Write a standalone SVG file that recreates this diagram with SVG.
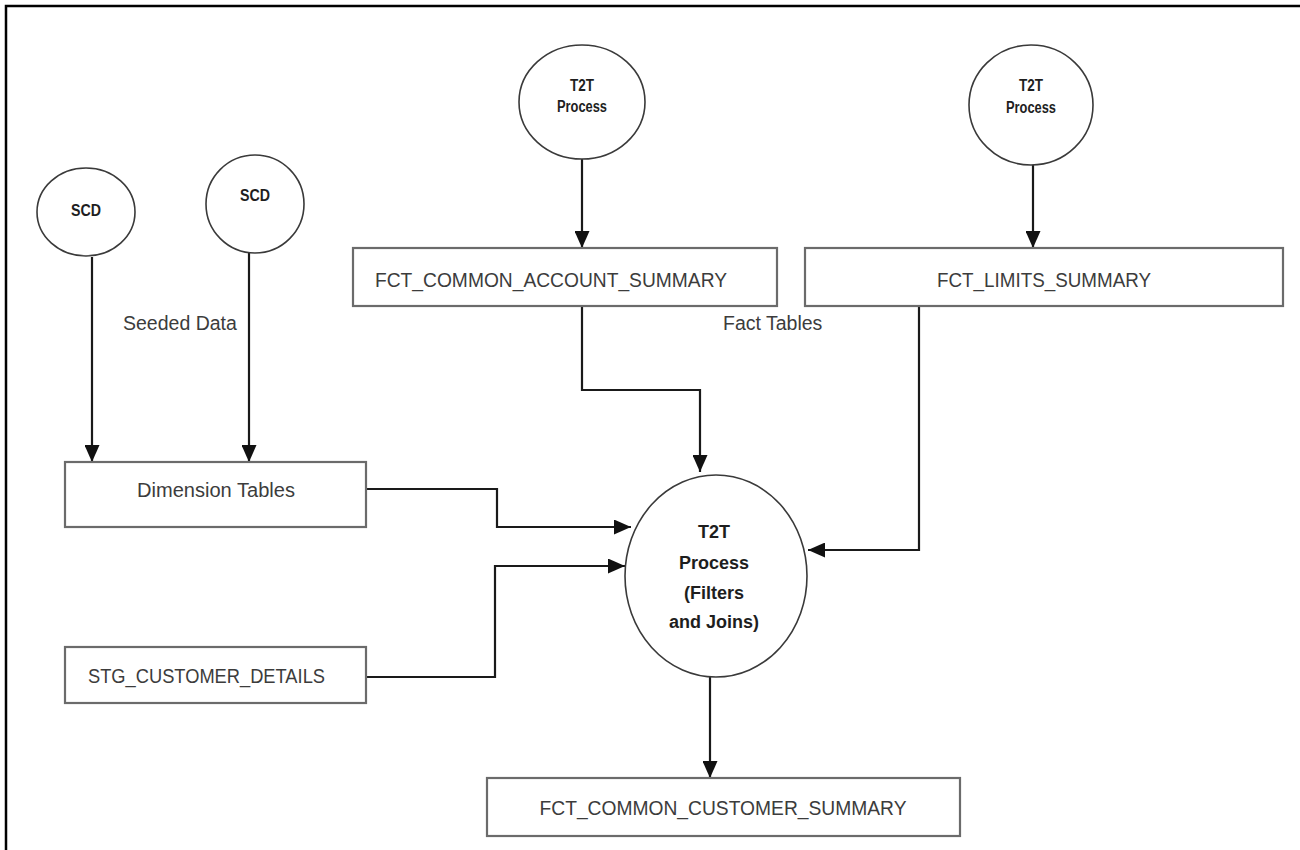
<svg xmlns="http://www.w3.org/2000/svg" width="1300" height="850" viewBox="0 0 1300 850">
<style>
.box{fill:#fff;stroke:#6b6b6b;stroke-width:2.2}
.circ{fill:#fff;stroke:#3a3a3a;stroke-width:1.6}
.conn{fill:none;stroke:#1a1a1a;stroke-width:2.2}
.lbl{font-family:"Liberation Sans",Arial,sans-serif;font-size:19.5px;fill:#3c3c3c}
.b{font-family:"Liberation Sans",Arial,sans-serif;font-weight:bold;fill:#1e1e1e}
</style>
<defs>
<marker id="ah" viewBox="0 0 17 15" refX="17" refY="7.5" markerWidth="17" markerHeight="15" markerUnits="userSpaceOnUse" orient="auto">
<path d="M0,0 L17,7.5 L0,15 Z" fill="#111"/>
</marker>
</defs>
<rect x="0" y="0" width="1300" height="850" fill="#fff"/>
<path d="M6,850 V6 H1300" fill="none" stroke="#000" stroke-width="2.5"/>

<g id="connectors">
<path class="conn" d="M92,257 V462" marker-end="url(#ah)"/>
<path class="conn" d="M249,253 V462" marker-end="url(#ah)"/>
<path class="conn" d="M582,158 V248" marker-end="url(#ah)"/>
<path class="conn" d="M1033,165 V248" marker-end="url(#ah)"/>
<path class="conn" d="M582,306 V390 H700 V472" marker-end="url(#ah)"/>
<path class="conn" d="M366,489 H497 V527 H631" marker-end="url(#ah)"/>
<path class="conn" d="M366,677 H495 V566 H625" marker-end="url(#ah)"/>
<path class="conn" d="M919,306 V550 H808" marker-end="url(#ah)"/>
<path class="conn" d="M710,677 V778" marker-end="url(#ah)"/>
</g>

<g id="scd1">
<ellipse class="circ" cx="86" cy="212" rx="49" ry="44"/>
<text class="b" x="86" y="216" font-size="17" text-anchor="middle" textLength="30" lengthAdjust="spacingAndGlyphs">SCD</text>
</g>
<g id="scd2">
<ellipse class="circ" cx="255" cy="204" rx="49" ry="49"/>
<text class="b" x="255" y="201" font-size="17" text-anchor="middle" textLength="30" lengthAdjust="spacingAndGlyphs">SCD</text>
</g>
<g id="t2t1">
<ellipse class="circ" cx="582" cy="102" rx="63" ry="57"/>
<text class="b" x="582" y="91" font-size="16" text-anchor="middle" textLength="24" lengthAdjust="spacingAndGlyphs">T2T</text>
<text class="b" x="582" y="112" font-size="16" text-anchor="middle" textLength="50" lengthAdjust="spacingAndGlyphs">Process</text>
</g>
<g id="t2t2">
<ellipse class="circ" cx="1031" cy="105" rx="62" ry="60"/>
<text class="b" x="1031" y="91" font-size="16" text-anchor="middle" textLength="24" lengthAdjust="spacingAndGlyphs">T2T</text>
<text class="b" x="1031" y="113" font-size="16" text-anchor="middle" textLength="50" lengthAdjust="spacingAndGlyphs">Process</text>
</g>
<g id="fct_common_account_summary">
<rect class="box" x="353" y="248" width="424" height="58"/>
<text class="lbl" x="375" y="287" textLength="352" lengthAdjust="spacingAndGlyphs">FCT_COMMON_ACCOUNT_SUMMARY</text>
</g>
<g id="fct_limits_summary">
<rect class="box" x="805" y="248" width="478" height="58"/>
<text class="lbl" x="1044" y="287" text-anchor="middle" textLength="214" lengthAdjust="spacingAndGlyphs">FCT_LIMITS_SUMMARY</text>
</g>
<g id="seeded_data_label">
<text class="lbl" x="123" y="330">Seeded Data</text>
</g>
<g id="fact_tables_label">
<text class="lbl" x="723" y="330">Fact Tables</text>
</g>
<g id="dimension_tables">
<rect class="box" x="65" y="462" width="301" height="65"/>
<text class="lbl" x="216" y="497" text-anchor="middle" textLength="158" lengthAdjust="spacingAndGlyphs">Dimension Tables</text>
</g>
<g id="stg_customer_details">
<rect class="box" x="65" y="647" width="301" height="56"/>
<text class="lbl" x="88" y="683" textLength="237" lengthAdjust="spacingAndGlyphs">STG_CUSTOMER_DETAILS</text>
</g>
<g id="t2t_main">
<ellipse class="circ" cx="716" cy="576" rx="91" ry="101"/>
<text class="b" x="714" y="538" font-size="18" text-anchor="middle">T2T</text>
<text class="b" x="714" y="569" font-size="18" text-anchor="middle">Process</text>
<text class="b" x="714" y="599" font-size="18" text-anchor="middle">(Filters</text>
<text class="b" x="714" y="628" font-size="18" text-anchor="middle">and Joins)</text>
</g>
<g id="fct_common_customer_summary">
<rect class="box" x="487" y="778" width="473" height="58"/>
<text class="lbl" x="723" y="815" text-anchor="middle" textLength="367" lengthAdjust="spacingAndGlyphs">FCT_COMMON_CUSTOMER_SUMMARY</text>
</g>
</svg>
